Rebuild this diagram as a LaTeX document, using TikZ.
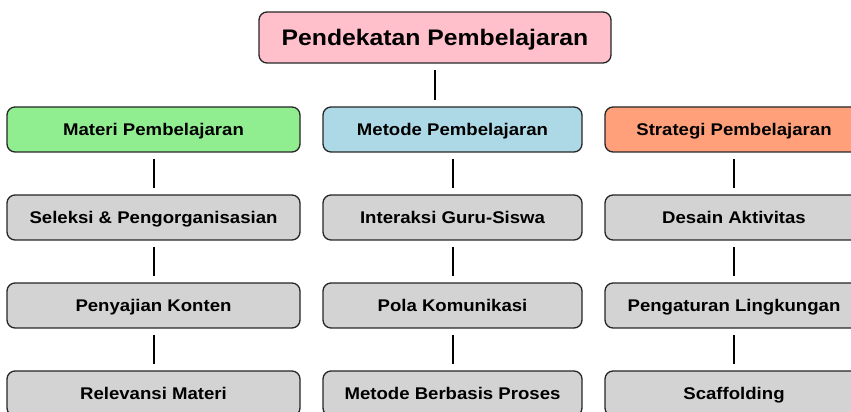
\documentclass[tikz,border=0pt]{standalone}
\usepackage{fontspec}
\setmainfont[FakeStretch=1.1]{Liberation Sans}
\usepackage{tikz}

\definecolor{pinkbox}{RGB}{255,192,203}
\definecolor{greenbox}{RGB}{144,238,144}
\definecolor{bluebox}{RGB}{173,216,230}
\definecolor{salmonbox}{RGB}{255,160,122}
\definecolor{greybox}{RGB}{211,211,211}

\begin{document}
\begin{tikzpicture}[x=1pt, y=1pt, node distance=88pt,
		box/.style={rectangle, rounded corners=8pt, draw=black!85, line width=1.3pt, minimum height=45pt, inner sep=0pt, text height=12.1pt, text depth=0pt, font=\fontsize{16.9}{20}\selectfont\bfseries},
		rootbox/.style={box, fill=pinkbox, minimum width=352pt, minimum height=51pt, text height=16.1pt, font=\fontsize{22.5}{26}\selectfont\bfseries},
		headbox/.style={box, minimum width=258pt},
		itembox/.style={box, fill=greybox, minimum width=258pt},
		link/.style={line width=2pt, shorten >=6.5pt, shorten <=6.5pt}]
		\useasboundingbox (0,0) rectangle (851,412);
		\clip (0,0) rectangle (851,412);

		\node (root) [rootbox] at (435,374.5) {Pendekatan Pembelajaran};

		% kolom materi
		\node (materi) [headbox, fill=greenbox, minimum width=293pt] at (153.5,282.5) {Materi Pembelajaran};
		\node (seleksi) [itembox, minimum width=293pt, below of=materi] {Seleksi \& Pengorganisasian};
		\node (sajian) [itembox, minimum width=293pt, below of=seleksi] {Penyajian Konten};
		\node (relevansi) [itembox, minimum width=293pt, below of=sajian] {Relevansi Materi};

		% kolom metode
		\node (metode) [headbox, fill=bluebox, minimum width=259pt] at (452.5,282.5) {Metode Pembelajaran};
		\node (interaksi) [itembox, minimum width=259pt, below of=metode] {Interaksi Guru-Siswa};
		\node (pola) [itembox, minimum width=259pt, below of=interaksi] {Pola Komunikasi};
		\node (proses) [itembox, minimum width=259pt, below of=pola] {Metode Berbasis Proses};

		% kolom strategi
		\node (strategi) [headbox, fill=salmonbox] at (734,282.5) {Strategi Pembelajaran};
		\node (desain) [itembox, below of=strategi] {Desain Aktivitas};
		\node (lingkungan) [itembox, below of=desain] {Pengaturan Lingkungan};
		\node (scaffold) [itembox, below of=lingkungan] {Scaffolding};

		\draw [link] (root.south) -- (root.south |- metode.north);

		\draw [link] (materi) -- (seleksi);
		\draw [link] (seleksi) -- (sajian);
		\draw [link] (sajian) -- (relevansi);
		\draw [link] (metode) -- (interaksi);
		\draw [link] (interaksi) -- (pola);
		\draw [link] (pola) -- (proses);
		\draw [link] (strategi) -- (desain);
		\draw [link] (desain) -- (lingkungan);
		\draw [link] (lingkungan) -- (scaffold);
	\end{tikzpicture}
\end{document}
